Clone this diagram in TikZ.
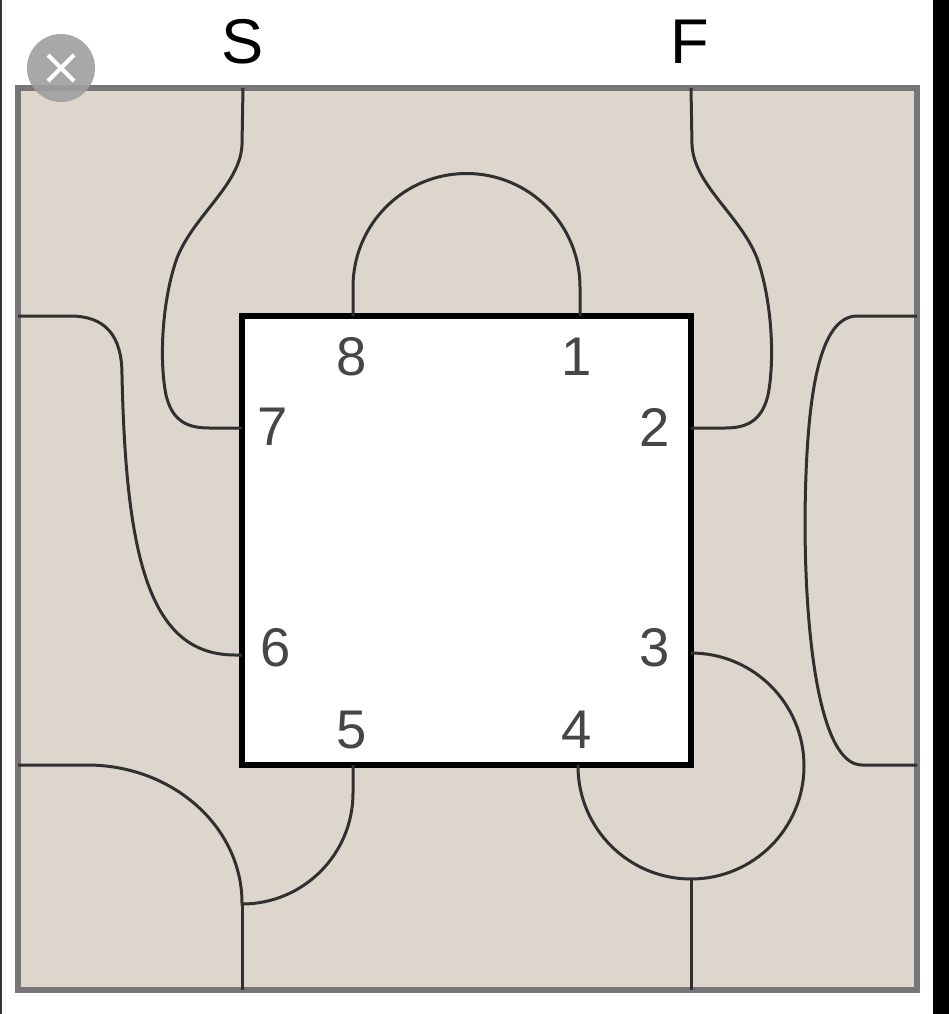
\documentclass[tikz,border=0pt]{standalone}
\usepackage{fontspec}
\setmainfont{Liberation Sans}
\usepackage{xcolor}
\usetikzlibrary{positioning}

\definecolor{paperTan}{RGB}{220,214,205}
\definecolor{frameGray}{RGB}{118,118,118}
\definecolor{wireGray}{RGB}{48,48,48}
\definecolor{pinText}{RGB}{70,70,70}

\begin{document}
\begin{tikzpicture}[
  x=0.02cm, y=-0.02cm,
  outerframe/.style={rectangle, draw=frameGray, fill=paperTan, line width=0.12cm, inner sep=0pt, outer sep=0pt, minimum width=17.98cm, minimum height=18.04cm},
  board/.style={rectangle, draw=black, fill=white, line width=0.12cm, inner sep=0pt, outer sep=0pt, minimum width=8.98cm, minimum height=8.98cm},
  wire/.style={draw=wireGray, line width=0.06cm},
  pinnum/.style={inner sep=0pt, text=pinText, font=\fontsize{31}{36}\selectfont},
  endlabel/.style={inner sep=0pt, font=\fontsize{36}{42}\selectfont},
  closebtn/.style={circle, fill=gray!75, fill opacity=0.9, minimum size=1.36cm, inner sep=0pt}
]
\useasboundingbox (0,0) rectangle (949,1014);
\fill[white] (0,0) rectangle (949,1014);
\fill[black] (933,0) rectangle (949,1014);
\fill[black!80] (0,0) rectangle (2,1014);

% frame and the square in the middle
\node[outerframe] (frame) at (467.5,539) {};
\node[board] (board) at (466.5,540.5) {};

% pins on the square
\coordinate (pin1) at (580,316);
\coordinate (pin2) at (691,428);
\coordinate (pin3) at (691,653);
\coordinate (pin4) at (579,765);
\coordinate (pin5) at (353,765);
\coordinate (pin6) at (242,655);
\coordinate (pin7) at (242,428);
\coordinate (pin8) at (353,316);

% exits on the frame
\coordinate (exitS) at (243,88);
\coordinate (exitF) at (691,88);
\coordinate (exitLeftTop) at (18,316);
\coordinate (exitLeftBottom) at (18,765);
\coordinate (exitRightTop) at (917,316);
\coordinate (exitRightBottom) at (917,765);
\coordinate (exitBottomLeft) at (242,990);
\coordinate (exitBottomRight) at (691,990);
\coordinate (ringFoot) at (691,879);
\coordinate (cornerJoin) at (242,903);

\node[pinnum] (num1) at (577,357) {1};
\node[pinnum] (num2) at (655,427) {2};
\node[pinnum] (num3) at (655,648) {3};
\node[pinnum] (num4) at (577,730) {4};
\node[pinnum] (num5) at (352,730) {5};
\node[pinnum] (num6) at (276,648) {6};
\node[pinnum] (num7) at (273,427) {7};
\node[pinnum] (num8) at (352,357) {8};

\node[endlabel] (startLabel) at (243,42) {S};
\node[endlabel] (finishLabel) at (690,42) {F};

% tracks
\draw[wire] (pin8) -- ++(0,-29) arc[start angle=180, end angle=360, radius=113.5] -- (pin1);
\draw[wire] (exitS) -- (242,145) .. controls (240,185) and (194,215) .. (177,258)
  .. controls (162,300) and (159,360) .. (166,395)
  .. controls (172,420) and (186,428) .. (209,428) -- (pin7);
\draw[wire] (exitF) -- (692,145) .. controls (694,185) and (740,215) .. (757,258)
  .. controls (772,300) and (775,360) .. (768,395)
  .. controls (762,420) and (748,428) .. (725,428) -- (pin2);
\draw[wire] (exitLeftTop) -- (70,316) .. controls (105,316) and (122,335) .. (122,375)
  .. controls (126,560) and (150,655) .. (235,655) -- (pin6);
\draw[wire] (exitRightTop) -- (856,316) .. controls (820,318) and (806,390) .. (805,520)
  .. controls (805,640) and (820,765) .. (862,765) -- (exitRightBottom);
\draw[wire] (pin3) arc[start angle=270, end angle=540, radius=113] -- (pin4);
\draw[wire] (ringFoot) -- (exitBottomRight);
\draw[wire] (exitLeftBottom) -- ++(69,0) arc[start angle=270, end angle=360, x radius=155, y radius=138] -- (cornerJoin);
\draw[wire] (pin5) -- ++(0,28) arc[start angle=0, end angle=90, radius=111] -- (cornerJoin);
\draw[wire] (cornerJoin) -- (exitBottomLeft);

% close button of the screenshot
\node[closebtn] (closeBtn) at (61,68) {};
\draw[white, line width=0.08cm] (closeBtn.center) ++(-13,-13) -- ++(26,26);
\draw[white, line width=0.08cm] (closeBtn.center) ++(13,-13) -- ++(-26,26);
\end{tikzpicture}
\end{document}
